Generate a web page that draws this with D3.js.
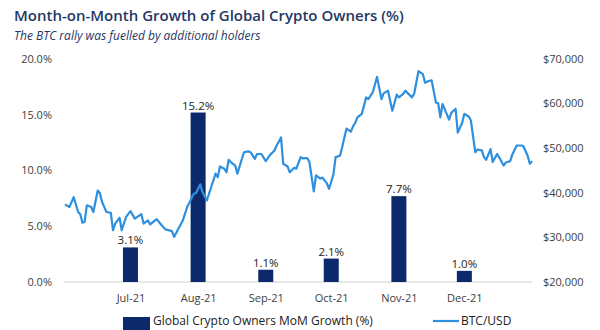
<!DOCTYPE html>
<html>
<head>
<meta charset="utf-8">
<script src="https://cdn.jsdelivr.net/npm/d3@7"></script>
<style>
  body { margin: 0; background: #fff; }
  svg { display: block; font-family: "Open Sans", sans-serif; }
</style>
</head>
<body>
<svg id="chart" width="600" height="330"></svg>
<script>
// month categories + growth values (bar labels)
var months = ["2021-07-01", "2021-08-01", "2021-09-01", "2021-10-01", "2021-11-01", "2021-12-01"]
var monthLabels = ["Jul-21", "Aug-21", "Sep-21", "Oct-21", "Nov-21", "Dec-21"]
var growth = [3.1, 15.2, 1.1, 2.1, 7.7, 1.0]

// BTC/USD
var btcDates = [
  "2021-06-01", "2021-06-03", "2021-06-05", "2021-06-07", "2021-06-08", "2021-06-09", "2021-06-10", "2021-06-11",
  "2021-06-13", "2021-06-14", "2021-06-16", "2021-06-17", "2021-06-18", "2021-06-20", "2021-06-22", "2021-06-23",
  "2021-06-24", "2021-06-26", "2021-06-27", "2021-06-29", "2021-07-01", "2021-07-03", "2021-07-06", "2021-07-07",
  "2021-07-09", "2021-07-10", "2021-07-13", "2021-07-15", "2021-07-17", "2021-07-20", "2021-07-21", "2021-07-23",
  "2021-07-25", "2021-07-27", "2021-07-30", "2021-07-31", "2021-08-02", "2021-08-03", "2021-08-05", "2021-08-07",
  "2021-08-09", "2021-08-10", "2021-08-11", "2021-08-13", "2021-08-14", "2021-08-15", "2021-08-16", "2021-08-18",
  "2021-08-19", "2021-08-22", "2021-08-24", "2021-08-25", "2021-08-27", "2021-08-28", "2021-08-30", "2021-09-01",
  "2021-09-03", "2021-09-05", "2021-09-06", "2021-09-08", "2021-09-09", "2021-09-11", "2021-09-12", "2021-09-14",
  "2021-09-15", "2021-09-17", "2021-09-18", "2021-09-20", "2021-09-21", "2021-09-23", "2021-09-24", "2021-09-26",
  "2021-09-27", "2021-09-29", "2021-09-30", "2021-10-02", "2021-10-03", "2021-10-05", "2021-10-06", "2021-10-08",
  "2021-10-10", "2021-10-11", "2021-10-12", "2021-10-13", "2021-10-15", "2021-10-17", "2021-10-18", "2021-10-20",
  "2021-10-22", "2021-10-24", "2021-10-25", "2021-10-27", "2021-10-29", "2021-10-31", "2021-11-01", "2021-11-03",
  "2021-11-04", "2021-11-07", "2021-11-08", "2021-11-10", "2021-11-12", "2021-11-13", "2021-11-15", "2021-11-16",
  "2021-11-18", "2021-11-19", "2021-11-20", "2021-11-21", "2021-11-24", "2021-11-25", "2021-11-26", "2021-11-27",
  "2021-11-28", "2021-11-30", "2021-12-01", "2021-12-03", "2021-12-04", "2021-12-06", "2021-12-07", "2021-12-09",
  "2021-12-10", "2021-12-11", "2021-12-13", "2021-12-14", "2021-12-16", "2021-12-17", "2021-12-19", "2021-12-20",
  "2021-12-22", "2021-12-23", "2021-12-25", "2021-12-27", "2021-12-28", "2021-12-30", "2021-12-31", "2022-01-01"
]
var btcPrice = [
  37400, 36800, 39000, 35700, 35200, 33300, 33500, 37200,
  36800, 35700, 40500, 39900, 37900, 35700, 35500, 31600,
  33100, 34400, 31600, 34600, 35900, 34200, 35200, 33100,
  33800, 32900, 34100, 32900, 31800, 31400, 30100, 32000,
  33800, 36800, 39800, 39900, 41900, 40200, 38300, 41300,
  44300, 43500, 45900, 45400, 44600, 47400, 46900, 46100,
  44300, 49100, 49300, 49100, 47600, 48700, 48700, 47100,
  48500, 49500, 50600, 52400, 46500, 45900, 44600, 45600,
  45400, 48000, 47700, 47800, 46900, 40300, 43900, 43200,
  43400, 42100, 40900, 44100, 48000, 48300, 50200, 54400,
  53700, 54900, 55700, 56900, 57700, 61400, 61000, 62500,
  66000, 61000, 62300, 62900, 58400, 62000, 61400, 62200,
  62900, 61400, 62200, 67300, 66600, 64700, 65100, 65200,
  60200, 60100, 56900, 59900, 56400, 57900, 58400, 58800,
  53500, 55700, 57700, 57100, 56200, 49100, 49700, 49500,
  48000, 47400, 49800, 46900, 48700, 47900, 46100, 46800,
  47100, 48600, 50600, 50600, 50500, 48300, 46500, 47100
]

var leftTicks = [0, 5, 10, 15, 20]
var rightTicks = [20000, 30000, 40000, 50000, 60000, 70000]

var navy = "#0c2a6b"
var blue = "#2e8fde"
var textGrey = "#404040"

var svg = d3.select("#chart")
var parse = d3.utcParse("%Y-%m-%d")

// scales
var x = d3.scaleUtc()
  .domain([parse("2021-06-01"), parse("2022-01-01")])
  .range([65, 532])

var yLeft = d3.scaleLinear().domain([0, 20]).range([282, 59])
var yRight = d3.scaleLinear().domain([20000, 70000]).range([282, 59])

// titles
svg.append("text")
  .attr("x", 14).attr("y", 21)
  .style("font-size", "15px")
  .style("font-weight", 600)
  .style("fill", "#1f3864")
  .text("Month-on-Month Growth of Global Crypto Owners (%)")

svg.append("text")
  .attr("x", 14).attr("y", 40)
  .style("font-size", "12px")
  .style("font-style", "italic")
  .style("fill", "#1f3864")
  .text("The BTC rally was fuelled by additional holders")

// left axis labels
svg.append("g")
  .selectAll("text")
  .data(leftTicks)
  .join("text")
  .attr("x", 52)
  .attr("y", d => yLeft(d))
  .attr("dy", "0.35em")
  .attr("text-anchor", "end")
  .style("font-size", "11px")
  .style("fill", textGrey)
  .text(d => d3.format(".1f")(d) + "%")

// right axis labels
svg.append("g")
  .selectAll("text")
  .data(rightTicks)
  .join("text")
  .attr("x", 543)
  .attr("y", d => yRight(d))
  .attr("dy", "0.35em")
  .style("font-size", "11px")
  .style("fill", textGrey)
  .text(d => "$" + d3.format(",")(d))

// baseline
svg.append("line")
  .attr("x1", 64).attr("x2", 532)
  .attr("y1", yLeft(0)).attr("y2", yLeft(0))
  .style("stroke", "#d0d0d0")
  .style("stroke-width", 1)

// month labels
var xAxis = d3.axisBottom(x)
  .tickValues(months.map(parse))
  .tickFormat((d, i) => monthLabels[i])
  .tickSize(0)
  .tickPadding(0)

var xg = svg.append("g")
  .attr("transform", "translate(0,294)")
  .call(xAxis)
xg.select(".domain").remove()
xg.selectAll("text")
  .style("font-size", "11px")
  .style("font-family", "'Open Sans', sans-serif")
  .style("fill", textGrey)

// bars
var barW = 15
var bars = months.map((m, i) => ({ date: parse(m), value: growth[i] }))

svg.append("g")
  .selectAll("rect")
  .data(bars)
  .join("rect")
  .attr("x", d => x(d.date) - barW / 2)
  .attr("y", d => yLeft(d.value))
  .attr("width", barW)
  .attr("height", d => yLeft(0) - yLeft(d.value))
  .style("fill", navy)

svg.append("g")
  .selectAll("text")
  .data(bars)
  .join("text")
  .attr("x", d => x(d.date))
  .attr("y", d => yLeft(d.value) - 3)
  .attr("text-anchor", "middle")
  .style("font-size", "11.5px")
  .style("fill", "#222")
  .text(d => d3.format(".1f")(d.value) + "%")

// BTC line
var btc = btcDates.map((d, i) => ({ date: parse(d), price: btcPrice[i] }))

var line = d3.line()
  .x(d => x(d.date))
  .y(d => yRight(d.price))

svg.append("path")
  .datum(btc)
  .attr("d", line)
  .style("fill", "none")
  .style("stroke", blue)
  .style("stroke-width", 2.2)
  .style("stroke-linejoin", "round")

// legend
svg.append("rect")
  .attr("x", 123).attr("y", 317)
  .attr("width", 27).attr("height", 13)
  .style("fill", navy)

svg.append("text")
  .attr("x", 153).attr("y", 325)
  .style("font-size", "12px")
  .style("fill", "#222")
  .text("Global Crypto Owners MoM Growth (%)")

svg.append("line")
  .attr("x1", 433).attr("x2", 459)
  .attr("y1", 321).attr("y2", 321)
  .style("stroke", blue)
  .style("stroke-width", 2.2)

svg.append("text")
  .attr("x", 461).attr("y", 325)
  .style("font-size", "12px")
  .style("fill", "#222")
  .text("BTC/USD")
</script>
</body>
</html>
